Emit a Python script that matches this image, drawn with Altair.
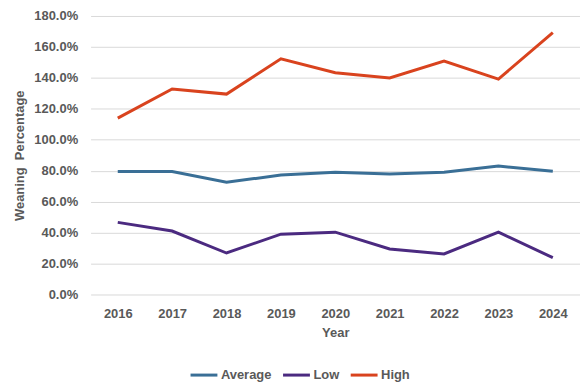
import altair as alt
import pandas as pd

years = ["2016", "2017", "2018", "2019", "2020", "2021", "2022", "2023", "2024"]
average = [79.5, 79.5, 72.5, 77.2, 79.0, 77.8, 79.0, 83.0, 79.6]
low = [46.6, 41.0, 26.8, 39.0, 40.3, 29.4, 26.2, 40.3, 23.8]
high = [114.0, 132.8, 129.5, 152.3, 143.3, 139.9, 150.8, 139.2, 169.3]

series = ["Average", "Low", "High"]
colors = ["#3a6f96", "#4b2a80", "#d9431e"]

rows = []
for name, vals in zip(series, [average, low, high]):
    for y, v in zip(years, vals):
        rows.append({"Year": y, "Series": name, "Value": v / 100.0})
df = pd.DataFrame(rows)

font = "Liberation Sans"
gray = "#595959"

chart = alt.Chart(df).mark_line(strokeWidth=3).encode(
    x=alt.X("Year:O", scale=alt.Scale(type="point", padding=0.5),
            axis=alt.Axis(title="Year", labelAngle=0, ticks=False, domain=False,
                          grid=False, labelPadding=13, titlePadding=6,
                          labelFont=font, titleFont=font, labelFontSize=13,
                          titleFontSize=13, labelFontWeight="bold", titleFontWeight="bold",
                          labelColor=gray, titleColor=gray)),
    y=alt.Y("Value:Q", scale=alt.Scale(domain=[0, 1.8], nice=False),
            axis=alt.Axis(title="Weaning\u00a0 Percentage", format=".1%",
                          values=[i / 10 for i in range(0, 19, 2)],
                          ticks=False, domain=False, gridColor="#d9d9d9", gridWidth=1,
                          labelPadding=13, titlePadding=7,
                          labelFont=font, titleFont=font, labelFontSize=13,
                          titleFontSize=13, labelFontWeight="bold", titleFontWeight="bold",
                          labelColor=gray, titleColor=gray)),
    color=alt.Color("Series:N", scale=alt.Scale(domain=series, range=colors),
                    sort=series,
                    legend=alt.Legend(title=None, orient="none", direction="horizontal",
                                      legendX=99, legendY=346, symbolType="stroke",
                                      symbolSize=729, symbolStrokeWidth=3, labelOffset=2,
                                      columnPadding=5, labelFont=font, labelFontSize=13,
                                      labelFontWeight="bold", labelColor=gray)),
    order=alt.Order("Year:O"),
).properties(
    width=492, height=280,
    padding={"left": 83, "top": 7, "right": 0, "bottom": 95},
    autosize=alt.AutoSizeParams(type="none"),
).configure_view(stroke=None)

chart.save("out.html", embed_options={"renderer": "svg", "actions": False})
